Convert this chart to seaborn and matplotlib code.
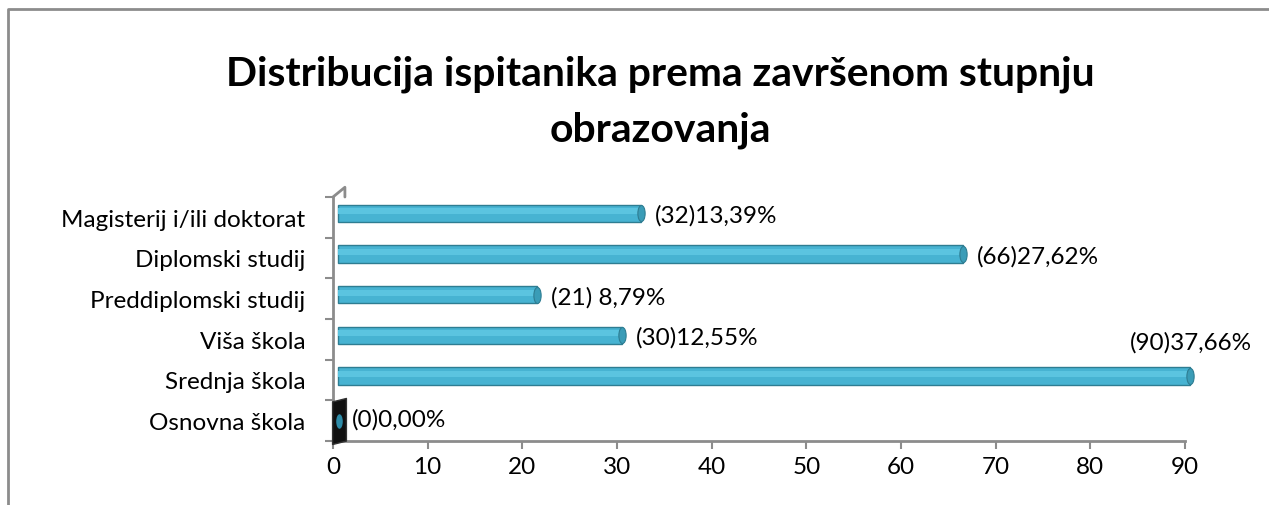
"""Distribucija ispitanika prema završenom stupnju obrazovanja - vodoravni stupci."""

import matplotlib
matplotlib.use("Agg")
import matplotlib.pyplot as plt
import matplotlib.transforms as mtransforms
from matplotlib.lines import Line2D
from matplotlib.path import Path
import numpy as np
import pandas as pd
import seaborn as sns

# Podaci (odozgo prema dolje, kao na grafikonu)
categories = ["Magisterij i/ili doktorat", "Diplomski studij", "Preddiplomski studij",
              "Viša škola", "Srednja škola", "Osnovna škola"]
counts = [32, 66, 21, 30, 90, 0]
labels = ["(32)13,39%", "(66)27,62%", "(21) 8,79%", "(30)12,55%", "(90)37,66%", "(0)0,00%"]
x_ticks = [0, 10, 20, 30, 40, 50, 60, 70, 80, 90]

BAR = "#47B3D2"
BAR_LIGHT = "#5BC4E0"
BAR_EDGE = "#2E7D92"
AXIS = "#8C8C8C"
FS = 17.5

sns.set_theme(style="white")
plt.rcParams["font.family"] = ["Lato", "DejaVu Sans"]
plt.rcParams["text.color"] = "black"
plt.rcParams["xtick.color"] = "black"
plt.rcParams["ytick.color"] = "black"

df = pd.DataFrame({"kategorija": categories, "broj": counts})

fig = plt.figure(figsize=(12.69, 5.06), dpi=100)
ax = fig.add_axes([0.2624, 0.1265, 0.6714, 0.4822])

sns.barplot(data=df, x="broj", y="kategorija", order=categories, orient="h",
            color=BAR, saturation=1, width=0.42, edgecolor=BAR_EDGE, linewidth=1,
            ax=ax)
sns.barplot(data=df, x="broj", y="kategorija", order=categories, orient="h",
            color=BAR_LIGHT, saturation=1, width=0.14, linewidth=0, ax=ax)

# malo pomaknuti stupce (3D dojam)
offset = mtransforms.ScaledTranslation(5 / 100, 4 / 100, fig.dpi_scale_trans)
lift = mtransforms.ScaledTranslation(0, 2 / 100, fig.dpi_scale_trans)
for k, p in enumerate(ax.patches):
    p.set_clip_on(False)
    if k < len(categories):
        p.set_transform(ax.transData + offset)
    else:
        p.set_transform(ax.transData + offset + lift)

# završeci valjaka
ell = Path.unit_circle().transformed(mtransforms.Affine2D().scale(0.45, 1.0))
pos = np.arange(len(categories))
vals = np.array(counts)
nz = vals > 0
ax.scatter(vals[nz], pos[nz], marker=ell, s=135, color="#3A9CB7",
           edgecolor=BAR_EDGE, linewidth=0.8, zorder=4, clip_on=False,
           transform=ax.transData + offset)
zero_off = ax.transData + mtransforms.ScaledTranslation(6 / 100, 0, fig.dpi_scale_trans)
box = Path([(-0.3, -1), (0.3, -0.85), (0.3, 1), (-0.3, 0.85), (-0.3, -1)])
ax.scatter(vals[~nz], pos[~nz], marker=box, s=1100, color="#111111",
           edgecolor="#333333", linewidth=1, zorder=4, clip_on=False, transform=zero_off)
ax.scatter(vals[~nz], pos[~nz], marker=ell, s=110, color="#2E8CA8",
           linewidth=0, zorder=5, clip_on=False, transform=zero_off)

# oznake podataka
for i, (v, lab) in enumerate(zip(counts, labels)):
    if v >= 80:
        ax.text(v + 7.1, i - 0.93, lab, ha="right", va="center", fontsize=FS)
    else:
        ax.text(v + 2.0, i - 0.05, lab, ha="left", va="center", fontsize=FS)

ax.set_xlim(0, 90)
ax.set_ylim(len(categories) - 0.5, -0.5)
ax.set_xticks(x_ticks)
ax.set_xticklabels([str(t) for t in x_ticks], fontsize=FS)
ax.set_yticks(pos)
ax.set_yticklabels(categories, fontsize=FS)
ax.set_yticks(np.arange(len(categories) + 1) - 0.5, minor=True)
ax.tick_params(axis="y", which="major", length=0, pad=20)
ax.tick_params(axis="y", which="minor", length=6, width=1.5, color=AXIS, left=True)
ax.tick_params(axis="x", length=6, width=1.5, color=AXIS, bottom=True, pad=5)
ax.set_xlabel("")
ax.set_ylabel("")

for side in ("top", "right"):
    ax.spines[side].set_visible(False)
for side in ("left", "bottom"):
    ax.spines[side].set_color(AXIS)
    ax.spines[side].set_linewidth(2)

# gornji kut 3D zida
ax.add_line(Line2D([0, 0.014, 0.014], [1.0, 1.04, 1.0], transform=ax.transAxes,
                   color=AXIS, lw=2, clip_on=False))

fig.text(0.52, 0.798, "Distribucija ispitanika prema završenom stupnju\nobrazovanja",
         ha="center", va="center", fontsize=29.4, fontweight="bold", linespacing=1.6)

# okvir grafikona
fig.add_artist(Line2D([0.006, 0.006, 1.0], [0.0, 0.98, 0.98], transform=fig.transFigure,
                      color=AXIS, lw=2))

fig.savefig("out.png", dpi=100)
